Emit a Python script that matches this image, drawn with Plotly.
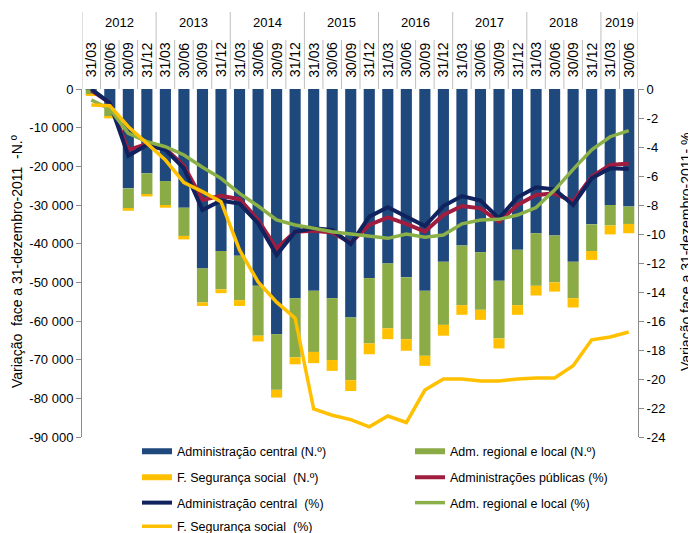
import plotly.graph_objects as go

# ---------------- data ----------------
year_labels = ["2012", "2013", "2014", "2015", "2016", "2017", "2018", "2019"]
quarters_per_year = [4, 4, 4, 4, 4, 4, 4, 2]
quarter_labels = ["31/03", "30/06", "30/09", "31/12",
                  "31/03", "30/06", "30/09", "31/12",
                  "31/03", "30/06", "30/09", "31/12",
                  "31/03", "30/06", "30/09", "31/12",
                  "31/03", "30/06", "30/09", "31/12",
                  "31/03", "30/06", "30/09", "31/12",
                  "31/03", "30/06", "30/09", "31/12",
                  "31/03", "30/06"]

# bars (N.º)
adm_central_n = [-100, -5000, -25700, -21800, -23800, -30700, -46400, -41900, -43100, -50900,
                 -63400, -54100, -52200, -54100, -59100, -48900, -45100, -48700, -52200, -44700,
                 -40500, -42200, -49600, -41600, -37300, -37900, -44700, -35000, -30000, -30400]
adm_regional_n = [-1200, -2150, -5300, -5600, -6200, -7300, -8800, -9900, -11500, -12900,
                  -14400, -15300, -15800, -16000, -16200, -16900, -16800, -16000, -16800, -16300,
                  -15400, -14900, -14900, -14300, -13600, -12100, -9400, -6900, -5300, -4500]
seg_social_n = [-500, -450, -500, -400, -700, -900, -900, -1000, -1500, -1500,
                -2000, -1800, -2900, -2800, -2800, -2800, -2800, -3000, -2600, -2800,
                -2500, -2600, -2600, -2500, -2500, -2400, -2400, -2300, -2300, -2400]

# lines (%)
adm_publicas_pct = [-0.1, -0.95, -4.2, -3.8, -4.1, -5.3, -7.66, -7.36, -7.6, -9.03,
                    -11.0, -9.84, -9.77, -9.9, -10.6, -9.38, -8.85, -9.3, -9.84, -8.69,
                    -8.07, -8.23, -9.15, -8.0, -7.31, -7.2, -7.77, -6.05, -5.24, -5.13]
adm_central_pct = [0.0, -0.97, -4.6, -3.86, -4.2, -5.47, -8.34, -7.7, -7.9, -9.26,
                   -11.45, -9.84, -9.6, -9.72, -10.7, -8.8, -8.16, -8.8, -9.45, -8.07,
                   -7.38, -7.7, -8.92, -7.47, -6.78, -6.92, -8.0, -6.16, -5.47, -5.52]
adm_regional_pct = [-0.76, -1.38, -3.06, -3.63, -3.98, -4.55, -5.4, -6.16, -7.2, -8.07,
                    -9.03, -9.38, -9.6, -9.84, -10.0, -10.18, -10.3, -10.0, -10.23, -10.07,
                    -9.3, -9.03, -8.99, -8.69, -8.18, -6.97, -5.54, -4.2, -3.29, -2.87]
seg_social_pct = [-1.1, -1.15, -2.6, -3.75, -4.9, -6.46, -7.08, -7.77, -11.1, -13.3,
                  -14.7, -15.8, -22.07, -22.5, -22.8, -23.3, -22.55, -23.0, -20.76, -20.0,
                  -20.0, -20.14, -20.14, -20.0, -19.93, -19.93, -19.08, -17.3, -17.1, -16.76]

left_tick_vals = [0, -10000, -20000, -30000, -40000, -50000, -60000, -70000, -80000, -90000]
left_tick_text = ["0", "-10 000", "-20 000", "-30 000", "-40 000", "-50 000",
                  "-60 000", "-70 000", "-80 000", "-90 000"]
right_tick_vals = [0, -2, -4, -6, -8, -10, -12, -14, -16, -18, -20, -22, -24]
right_tick_text = ["0", "-2", "-4", "-6", "-8", "-10", "-12", "-14", "-16", "-18",
                   "-20", "-22", "-24"]

left_title = "Variação  face a 31-dezembro-2011  -N.º"
right_title = "Variação face a 31-dezembro-2011- %"

# category keys (quarter/year)
period_years = [y for y, n in zip(year_labels, quarters_per_year) for _ in range(n)]
categories = [f"{q}/{y}" for q, y in zip(quarter_labels, period_years)]

# ---------------- style ----------------
FONT = "Liberation Sans, Arial, sans-serif"
C_BLUE = "#1F497D"
C_GREEN = "#8BAB47"
C_YELLOW = "#FFC000"
C_RED = "#A11D3F"
C_NAVY = "#11235E"
C_GREENL = "#8CB048"
AXIS_GRAY = "#8C8C8C"
SEP_GRAY = "#BFBFBF"

# the page body has an 8px margin: the figure is drawn 8px in from the top-left
BODY = 8
PLOT_H = 348.0
PLOT_W = 556.0
def py(pix):  # window pixel row -> paper y
    return (437.0 - pix) / PLOT_H
def px(pix):  # window pixel column -> paper x
    return (pix - 82.0) / PLOT_W

fig = go.Figure()

bar_series = [
    ("Administração central (N.º)", adm_central_n, C_BLUE, "legend", "central_n"),
    ("Adm. regional e local (N.º)", adm_regional_n, C_GREEN, "legend", "regional_n"),
    ("F. Segurança social  (N.º)", seg_social_n, C_YELLOW, "legend2", "seg_n"),
]
for name, vals, col, leg, grp in bar_series:
    fig.add_trace(go.Bar(x=categories, y=vals, name=name, legendgroup=grp,
                         showlegend=False, marker=dict(color=col, line=dict(width=0))))
# legend keys for the bar series, drawn as wide flat swatches like the original
for name, vals, col, leg, grp in bar_series:
    fig.add_trace(go.Scatter(x=[None], y=[None], mode="lines", name=name, legendgroup=grp,
                             line=dict(color=col, width=6), legend=leg, hoverinfo="skip"))

fig.add_trace(go.Scatter(x=categories, y=adm_publicas_pct, yaxis="y2", mode="lines",
                         name="Administrações públicas (%)",
                         line=dict(color=C_RED, width=4), legend="legend2"))
fig.add_trace(go.Scatter(x=categories, y=adm_central_pct, yaxis="y2", mode="lines",
                         name="Administração central  (%)",
                         line=dict(color=C_NAVY, width=4), legend="legend3"))
fig.add_trace(go.Scatter(x=categories, y=adm_regional_pct, yaxis="y2", mode="lines",
                         name="Adm. regional e local (%)",
                         line=dict(color=C_GREENL, width=3.5), legend="legend3"))
fig.add_trace(go.Scatter(x=categories, y=seg_social_pct, yaxis="y2", mode="lines",
                         name="F. Segurança social  (%)",
                         line=dict(color=C_YELLOW, width=3.5), legend="legend4"))

# header: year / quarter labels and separators
annotations = []
shapes = []
n_cat = len(categories)
start = 0
year_bounds = {0}
for y, n in zip(year_labels, quarters_per_year):
    annotations.append(dict(x=start + (n - 1) / 2.0, xref="x", y=py(22), yref="paper",
                            text=y, showarrow=False, font=dict(size=13, color="#000"),
                            xanchor="center", yanchor="middle"))
    start += n
    year_bounds.add(start)
for i, q in enumerate(quarter_labels):
    annotations.append(dict(x=i, xref="x", y=py(60), yref="paper", text=q, textangle=-90,
                            showarrow=False, font=dict(size=14, color="#000"),
                            xanchor="center", yanchor="middle"))
for b in range(n_cat + 1):
    top = py(12) if b in year_bounds else py(40)
    shapes.append(dict(type="line", xref="x", yref="paper", x0=b - 0.5, x1=b - 0.5,
                       y0=1.0, y1=top, line=dict(color=SEP_GRAY, width=1)))

# axis titles
annotations.append(dict(x=px(7), xref="paper", y=py(262), yref="paper",
                        text=left_title, textangle=-90, showarrow=False,
                        font=dict(size=14, color="#000"), xanchor="left", yanchor="middle"))
annotations.append(dict(x=px(696), xref="paper", y=py(252), yref="paper",
                        text=right_title, textangle=-90, showarrow=False,
                        font=dict(size=14, color="#000"), xanchor="right", yanchor="middle"))

leg_common = dict(orientation="h", xanchor="left", yanchor="middle", x=px(137),
                  entrywidth=228, entrywidthmode="pixels", itemwidth=30,
                  font=dict(size=12.5, color="#000", family=FONT),
                  bgcolor="rgba(0,0,0,0)", traceorder="normal")

fig.update_layout(
    width=696 - BODY, height=533 - BODY,
    margin=dict(l=82 - BODY, r=58, t=89 - BODY, b=96, autoexpand=False),
    plot_bgcolor="white", paper_bgcolor="white",
    font=dict(family=FONT, size=12, color="#000"),
    barmode="relative", bargap=0.4,
    xaxis=dict(type="category", range=[-0.5, n_cat - 0.5], showticklabels=False,
               ticks="", showline=False, showgrid=False, zeroline=False),
    yaxis=dict(range=[-90000, 0], tickvals=left_tick_vals, ticktext=left_tick_text,
               ticks="outside", ticklen=5, tickcolor=AXIS_GRAY, showline=True,
               linecolor=AXIS_GRAY, linewidth=1, showgrid=False, zeroline=False,
               tickfont=dict(size=13, color="#000")),
    yaxis2=dict(range=[-24, 0], tickvals=right_tick_vals, ticktext=right_tick_text,
                overlaying="y", side="right", ticks="outside", ticklen=5,
                tickcolor=AXIS_GRAY, showline=True, linecolor=AXIS_GRAY, linewidth=1,
                showgrid=False, zeroline=False, tickfont=dict(size=13, color="#000")),
    legend=dict(leg_common, y=py(451.5)),
    legend2=dict(leg_common, y=py(477.5)),
    legend3=dict(leg_common, y=py(503)),
    legend4=dict(leg_common, y=py(526.5)),
    annotations=annotations,
    shapes=shapes,
)

fig.write_html("out.html")
